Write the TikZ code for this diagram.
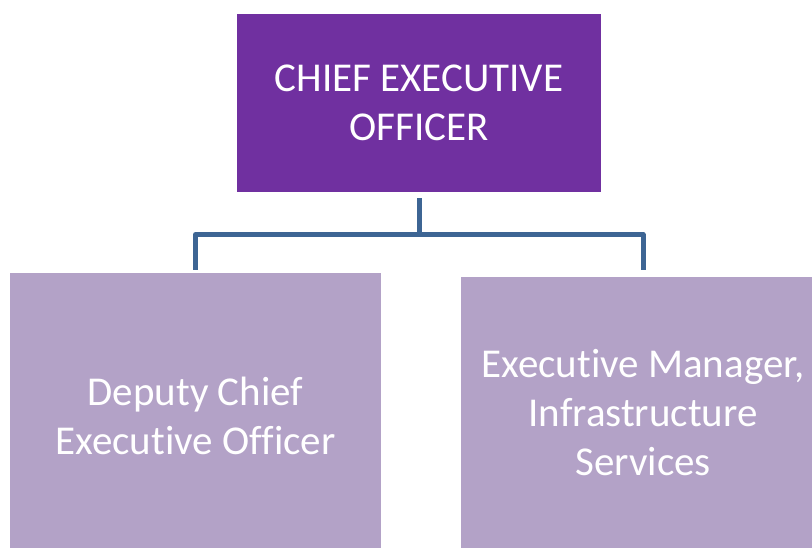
\documentclass[tikz,border=0pt]{standalone}
\usepackage{fontspec}
\setmainfont{Carlito}[Ligatures=NoCommon]
\usepackage{tikz}
\usetikzlibrary{positioning,calc}
\definecolor{ceopurple}{HTML}{7030A0}
\definecolor{lilac}{HTML}{B3A2C7}
\definecolor{linkblue}{HTML}{3D6594}
\tikzset{%
  officebox/.style={%
    rectangle,
    inner sep=0pt,
    align=center,
    text=white,
    font=\fontsize{41}{49}\selectfont
  },
  orgline/.style={%
    draw=linkblue,
    line width=5pt,
    line join=round
  }
}

\begin{document}
\begin{tikzpicture}[x=1pt,y=-1pt]
  \useasboundingbox (0,0) rectangle (812,548);
  \node [officebox,fill=ceopurple,minimum width=364pt,minimum height=178pt] (ceo) at (419, 103) {CHIEF EXECUTIVE\\OFFICER};
  \node [officebox,fill=lilac,minimum width=371pt,minimum height=286pt] (dep) at (195.5, 416) {Deputy Chief\\Executive Officer};
  \node [officebox,fill=lilac,minimum width=364pt,minimum height=271pt] (exm) at (643, 412.5) {Executive Manager,\\Infrastructure\\Services};
  \coordinate (bar) at (419, 234.5);
  \coordinate (depjoin) at (195.5, 270);
  \coordinate (exmjoin) at (643, 270);
  \draw [orgline] ([yshift=-6pt]ceo.south) -- (bar);
  \draw [orgline] (depjoin) |- (bar) -| (exmjoin);
\end{tikzpicture}
\end{document}
